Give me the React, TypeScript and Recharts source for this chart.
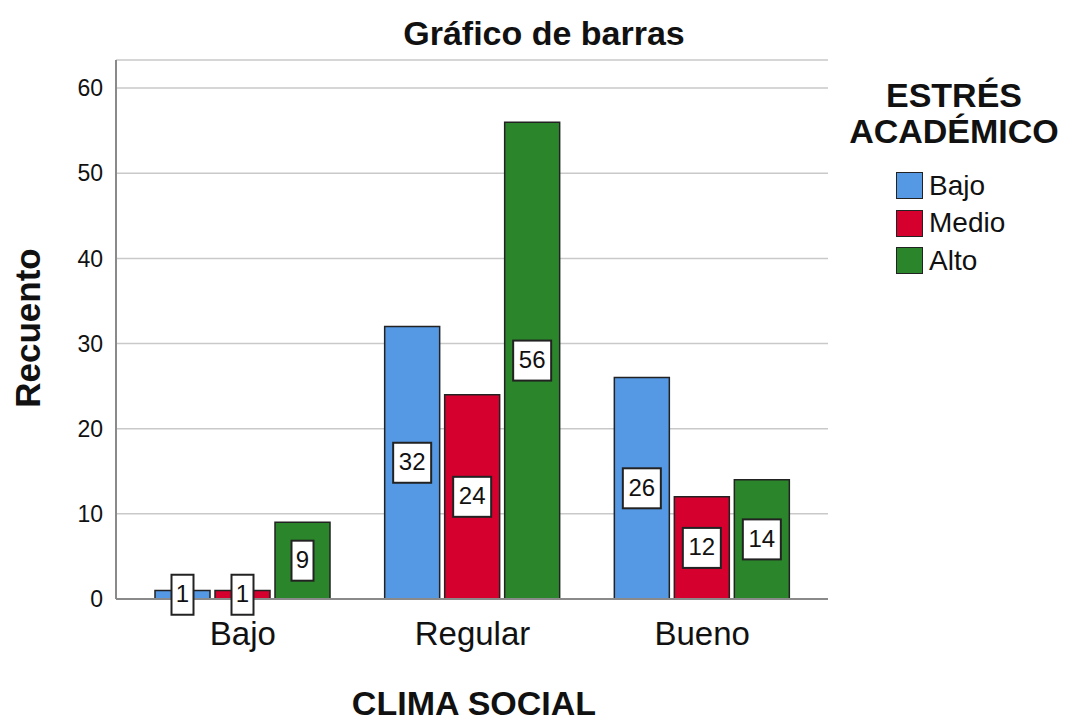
import { BarChart, Bar, XAxis, YAxis, CartesianGrid, LabelList } from "recharts";

const categories = ["Bajo", "Regular", "Bueno"];
const bajo = [1, 32, 26];
const medio = [1, 24, 12];
const alto = [9, 56, 14];
const yTicks = [0, 10, 20, 30, 40, 50, 60];

const SERIES = [
    { key: "bajo", name: "Bajo", color: "#5599e4" },
    { key: "medio", name: "Medio", color: "#d6002f" },
    { key: "alto", name: "Alto", color: "#2b862b" },
];

const data = categories.map((c, i) => ({
    cat: c,
    bajo: bajo[i],
    medio: medio[i],
    alto: alto[i],
}));

const FONT = "'Liberation Sans', Arial, sans-serif";

const BoxLabel = (props: any) => {
    const { x, y, width, height, value } = props;
    const cx = x + width / 2;
    const cy = y + height / 2;
    const w = String(value).length > 1 ? 38 : 22;
    const h = 40;
    return (
        <g>
            <rect x={cx - w / 2} y={cy - h / 2} width={w} height={h} fill="#fff" stroke="#222" strokeWidth={2} />
            <text x={cx} y={cy + 1} textAnchor="middle" dominantBaseline="middle" fontSize={24} fontFamily={FONT} fill="#111">
                {value}
            </text>
        </g>
    );
};

// legend drawn as an overlay so it doesn't eat plot space
const LegendBox = () => (
    <div style={{ position: "absolute", left: 840, top: 77, fontFamily: FONT, width: 228 }}>
        <div style={{ fontWeight: "bold", fontSize: 34, textAlign: "center", lineHeight: "36px", color: "#111" }}>
            ESTRÉS
            <br />
            ACADÉMICO
        </div>
        <div style={{ position: "absolute", top: 90, left: 56 }}>
            {SERIES.map(s => (
                <div key={s.key} style={{ display: "flex", alignItems: "center", height: 37.5 }}>
                    <div style={{ width: 25, height: 25, background: s.color, border: "1.5px solid #222" }} />
                    <span style={{ marginLeft: 6, fontSize: 28, color: "#111", lineHeight: "28px" }}>{s.name}</span>
                </div>
            ))}
        </div>
    </div>
);

export default function App() {
    return (
        <div style={{ position: "absolute", left: 0, top: 0, width: 1065, height: 720, background: "#fff", fontFamily: FONT }}>
            <div style={{ position: "absolute", left: 0, width: 1088, top: 15, lineHeight: "36px", textAlign: "center", fontWeight: "bold", fontSize: 34, color: "#111" }}>
                Gráfico de barras
            </div>
            <div
                style={{
                    position: "absolute",
                    left: 28,
                    top: 328,
                    transform: "translate(-50%, -50%) rotate(-90deg)",
                    fontWeight: "bold",
                    fontSize: 35,
                    lineHeight: "36px",
                    color: "#111",
                    whiteSpace: "nowrap",
                }}
            >
                Recuento
            </div>
            <div style={{ position: "absolute", left: 0, width: 948, top: 685, lineHeight: "36px", textAlign: "center", fontWeight: "bold", fontSize: 34, color: "#111" }}>
                CLIMA SOCIAL
            </div>
            <LegendBox />
            <BarChart
                width={1065}
                height={720}
                data={data}
                margin={{ top: 60, right: 237, bottom: 0, left: 0 }}
                barGap={5}
                barCategoryGap={27}
            >
                <CartesianGrid vertical={false} stroke="#c9c9c9" strokeWidth={1.5} />
                <XAxis
                    dataKey="cat"
                    tickLine={false}
                    axisLine={{ stroke: "#8a8a8a", strokeWidth: 2 }}
                    tick={{ fontSize: 33, fill: "#111", fontFamily: FONT }}
                    tickMargin={17}
                    padding={{ left: 12, right: 11 }}
                    height={121}
                />
                <YAxis
                    domain={[0, 63.3]}
                    ticks={yTicks}
                    width={116}
                    tickLine={false}
                    axisLine={{ stroke: "#8a8a8a", strokeWidth: 2 }}
                    tick={{ fontSize: 23, fill: "#111", fontFamily: FONT }}
                    tickMargin={7}
                />
                {SERIES.map(s => (
                    <Bar key={s.key} dataKey={s.key} name={s.name} fill={s.color} stroke="#222" strokeWidth={1.5} barSize={55} isAnimationActive={false}>
                        <LabelList dataKey={s.key} content={BoxLabel} />
                    </Bar>
                ))}
            </BarChart>
        </div>
    );
}
